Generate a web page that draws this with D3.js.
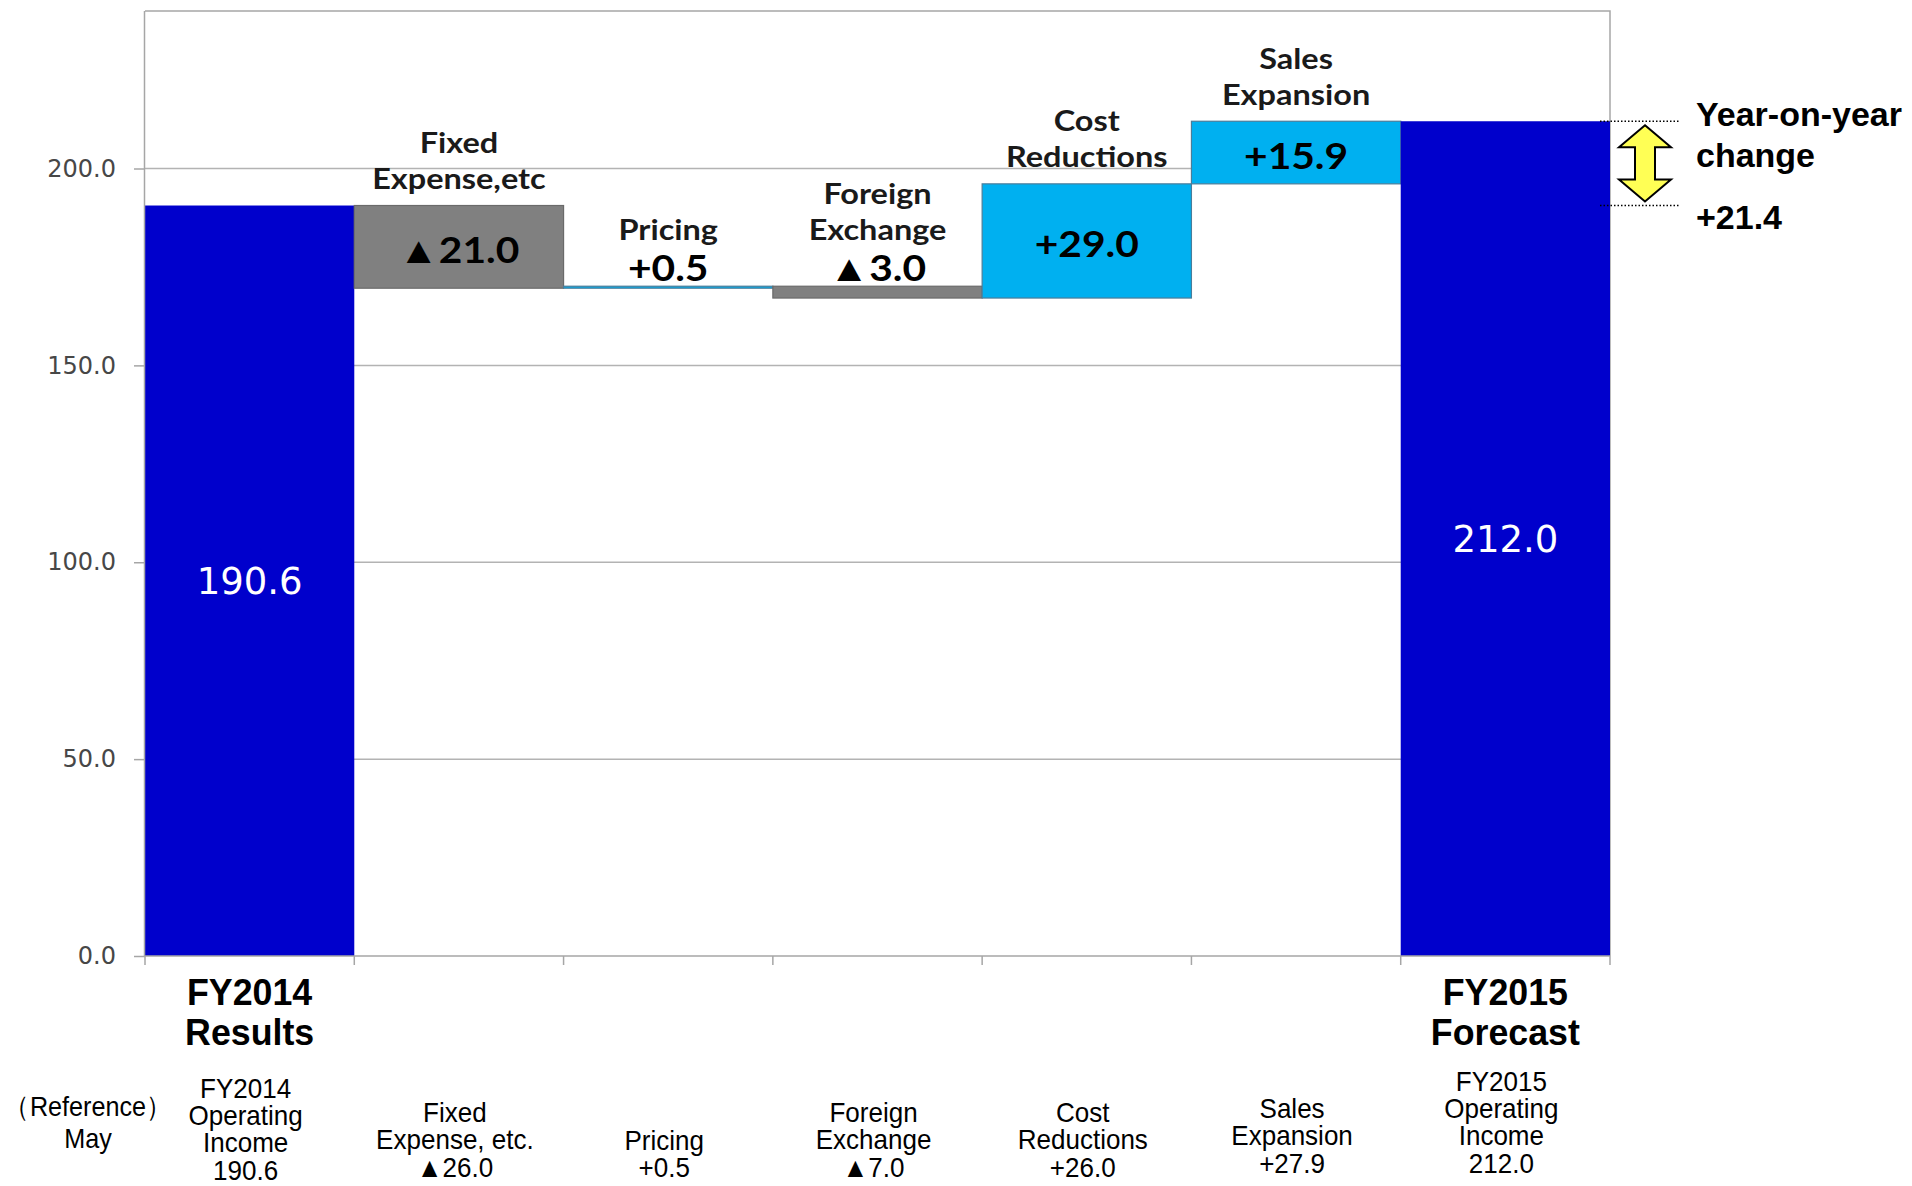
<!DOCTYPE html>
<html>
<head>
<meta charset="utf-8">
<script src="https://cdn.jsdelivr.net/npm/d3@7"></script>
<style>
  html, body { margin: 0; padding: 0; background: #ffffff; }
  svg { display: block; }
</style>
</head>
<body>
<svg id="chart" width="1912" height="1186"></svg>
<script>
// Operating income bridge: FY2014 results -> FY2015 forecast (billions of yen)
const categories = ["FY2014 Results", "Fixed Expense,etc", "Pricing", "Foreign Exchange",
                    "Cost Reductions", "Sales Expansion", "FY2015 Forecast"];
const kinds = ["total", "delta", "delta", "delta", "delta", "delta", "total"];
const values = [190.6, -21.0, 0.5, -3.0, 29.0, 15.9, 212.0];

// Labels written above the step bars
const stepNames = [[], ["Fixed", "Expense,etc"], ["Pricing"], ["Foreign", "Exchange"],
                   ["Cost", "Reductions"], ["Sales", "Expansion"], []];
// Bold category labels under the axis
const axisNames = [["FY2014", "Results"], [], [], [], [], [], ["FY2015", "Forecast"]];
// May reference figures shown in the bottom row
const mayNames = [["FY2014", "Operating", "Income"], ["Fixed", "Expense, etc."], ["Pricing"],
                  ["Foreign", "Exchange"], ["Cost", "Reductions"], ["Sales", "Expansion"],
                  ["FY2015", "Operating", "Income"]];
const mayValues = [190.6, -26.0, 0.5, -7.0, 26.0, 27.9, 212.0];
const yTicks = [0, 50, 100, 150, 200];
const yMax = 240;
const yoyChange = 21.4;

const COLORS = { total: "#0000cc", up: "#00b0f0", down: "#808080" };

const svg = d3.select("#chart");
const plotL = 145, plotR = 1610, plotT = 11, plotB = 956;

const x = d3.scaleBand().domain(categories).range([plotL, plotR]).padding(0);
const y = d3.scaleLinear().domain([0, yMax]).range([plotB, plotT]);

const fmtTotal = d3.format(".1f");
const fmtDelta = v => (v < 0 ? "\u25B2" : "+") + d3.format(".1f")(Math.abs(v));

// Running totals for the waterfall steps
let run = 0;
const bars = categories.map((c, i) => {
  let start, end;
  if (kinds[i] === "total") { start = 0; end = values[i]; run = values[i]; }
  else { start = run; end = run + values[i]; run = end; }
  return { cat: c, i, kind: kinds[i], value: values[i], start, end };
});

// Multi-line centred text block; (cx, firstY) is the baseline of the first line
function textBlock(cx, firstY, lines, step, sx, font, size, weight, color) {
  const t = svg.append("text")
    .attr("transform", `translate(${cx},${firstY}) scale(${sx},1)`)
    .attr("text-anchor", "middle")
    .attr("font-family", font).attr("font-size", size)
    .attr("font-weight", weight).attr("fill", color);
  lines.forEach((line, k) => {
    t.append("tspan").attr("x", 0).attr("dy", k === 0 ? 0 : step).text(line);
  });
  return t;
}

// Gridlines
svg.append("g").selectAll("line").data(yTicks.filter(d => d > 0)).join("line")
  .attr("x1", plotL).attr("x2", plotR)
  .attr("y1", d => y(d)).attr("y2", d => y(d))
  .attr("stroke", "#b3b3b3").attr("stroke-width", 1.5);

// Plot frame (top and right)
svg.append("path")
  .attr("d", `M${plotL},${plotT}H${plotR}V${plotB}`)
  .attr("fill", "none").attr("stroke", "#a6a6a6").attr("stroke-width", 1.5);

// Bars
svg.append("g").selectAll("rect").data(bars).join("rect")
  .attr("x", d => x(d.cat))
  .attr("width", x.bandwidth())
  .attr("y", d => y(Math.max(d.start, d.end)))
  .attr("height", d => Math.max(1.5, Math.abs(y(d.start) - y(d.end))))
  .attr("fill", d => d.kind === "total" ? COLORS.total : (d.value >= 0 ? COLORS.up : COLORS.down))
  .attr("stroke", d => d.kind === "total" ? "none" : (d.value >= 0 ? "#4a7d9a" : "#6a6a6a"))
  .attr("stroke-width", 1.2);

// Y axis
const yAxis = svg.append("g")
  .attr("transform", `translate(${plotL},0)`)
  .call(d3.axisLeft(y).tickValues(yTicks).tickFormat(fmtTotal).tickSize(11).tickPadding(18));
yAxis.select(".domain").attr("stroke", "#a6a6a6").attr("stroke-width", 1.5)
  .attr("d", `M-0.5,${plotT}V${plotB}`);
yAxis.selectAll(".tick line").attr("stroke", "#a6a6a6").attr("stroke-width", 1.5);
yAxis.selectAll(".tick text")
  .attr("font-family", "DejaVu Sans, Verdana, sans-serif")
  .attr("font-size", 24).attr("fill", "#474747");

// X axis baseline with ticks at category boundaries
const xAxis = svg.append("g").attr("transform", `translate(0,${plotB})`);
xAxis.append("line").attr("x1", plotL).attr("x2", plotR).attr("y1", 0).attr("y2", 0)
  .attr("stroke", "#a6a6a6").attr("stroke-width", 1.5);
const bounds = categories.map(c => x(c)).concat([plotR]);
xAxis.selectAll("line.tk").data(bounds).join("line").attr("class", "tk")
  .attr("x1", d => d).attr("x2", d => d).attr("y1", 0).attr("y2", 9)
  .attr("stroke", "#a6a6a6").attr("stroke-width", 1.5);

// Totals printed inside the blue bars
svg.append("g").selectAll("text").data(bars.filter(d => d.kind === "total")).join("text")
  .attr("x", d => x(d.cat) + x.bandwidth() / 2)
  .attr("y", d => (y(d.end) + y(0)) / 2)
  .attr("dy", "0.36em")
  .attr("text-anchor", "middle")
  .attr("font-family", "DejaVu Sans, Verdana, sans-serif")
  .attr("font-size", 37).attr("fill", "#ffffff")
  .text(d => fmtTotal(d.value));

// Step labels: value inside the bar when it is tall enough, otherwise above it
const stepFont = "Lato, 'Open Sans', sans-serif";
bars.filter(d => d.kind === "delta").forEach(d => {
  const cx = x(d.cat) + x.bandwidth() / 2;
  const yt = y(Math.max(d.start, d.end));
  const h = Math.abs(y(d.start) - y(d.end));
  let valueY, lastNameY;
  if (h > 40) {
    valueY = yt + h / 2 + 3;
    lastNameY = yt - 27;
  } else {
    valueY = yt - 19;
    lastNameY = valueY - 38;
  }
  svg.append("text")
    .attr("transform", `translate(${cx},${valueY}) scale(1.1,1)`)
    .attr("dy", "0.36em")
    .attr("text-anchor", "middle")
    .attr("font-family", stepFont).attr("font-weight", 700)
    .attr("font-size", 37).attr("fill", "#000000")
    .text(fmtDelta(d.value));
  const names = stepNames[d.i];
  if (names.length) {
    const firstY = lastNameY - (names.length - 1) * 36 + 10.5;
    textBlock(cx, firstY, names, 36, 1.1, stepFont, 29.5, 700, "#1a1a1a");
  }
});

// Bold labels below the total bars
const arial = "'Liberation Sans', Arial, sans-serif";
categories.forEach((c, i) => {
  if (!axisNames[i].length) return;
  const cx = x(c) + x.bandwidth() / 2;
  textBlock(cx, 1005, axisNames[i], 40.5, 0.98, arial, 36.5, 700, "#000000");
});

// Reference row (May figures); blocks are bottom-aligned on their value line
const rowStep = 27.5;
const rowBase = 1177;
const rowShift = [3, 0, 0, 0, 0, -4, -4];
textBlock(88, 1116, ["\uFF08Reference\uFF09", "May"], 32, 0.9, arial, 28, 400, "#000000");
categories.forEach((c, i) => {
  const cx = x(c) + x.bandwidth() / 2 - 4;
  const lines = mayNames[i].concat([kinds[i] === "total" ? fmtTotal(mayValues[i]) : fmtDelta(mayValues[i])]);
  const firstY = rowBase + rowShift[i] - (lines.length - 1) * rowStep;
  textBlock(cx, firstY, lines, rowStep, 0.93, arial, 28, 400, "#000000");
});

// Year-on-year change marker
const yHi = y(values[6]), yLo = y(values[0]);
svg.append("g").selectAll("line").data([yHi, yLo]).join("line")
  .attr("x1", plotR - 10).attr("x2", 1680)
  .attr("y1", d => d).attr("y2", d => d)
  .attr("stroke", "#000000").attr("stroke-width", 1.5)
  .attr("stroke-dasharray", "1.5,2");

const ax = 1645, aTop = yHi + 4, aBot = yLo - 4, hw = 26, sw = 10, hh = 22;
svg.append("path")
  .attr("d", `M${ax},${aTop} L${ax + hw},${aTop + hh} L${ax + sw},${aTop + hh} L${ax + sw},${aBot - hh}
              L${ax + hw},${aBot - hh} L${ax},${aBot} L${ax - hw},${aBot - hh} L${ax - sw},${aBot - hh}
              L${ax - sw},${aTop + hh} L${ax - hw},${aTop + hh} Z`)
  .attr("fill", "#ffff55").attr("stroke", "#000000").attr("stroke-width", 2)
  .attr("stroke-linejoin", "miter");

const note = svg.append("text").attr("x", 1696).attr("y", 126)
  .attr("font-family", arial).attr("font-weight", 700)
  .attr("font-size", 34).attr("fill", "#000000");
[["Year-on-year", 0], ["change", 41], ["+" + yoyChange.toFixed(1), 62]].forEach(([t, dy]) => {
  note.append("tspan").attr("x", 1696).attr("dy", dy).text(t);
});
</script>
</body>
</html>
